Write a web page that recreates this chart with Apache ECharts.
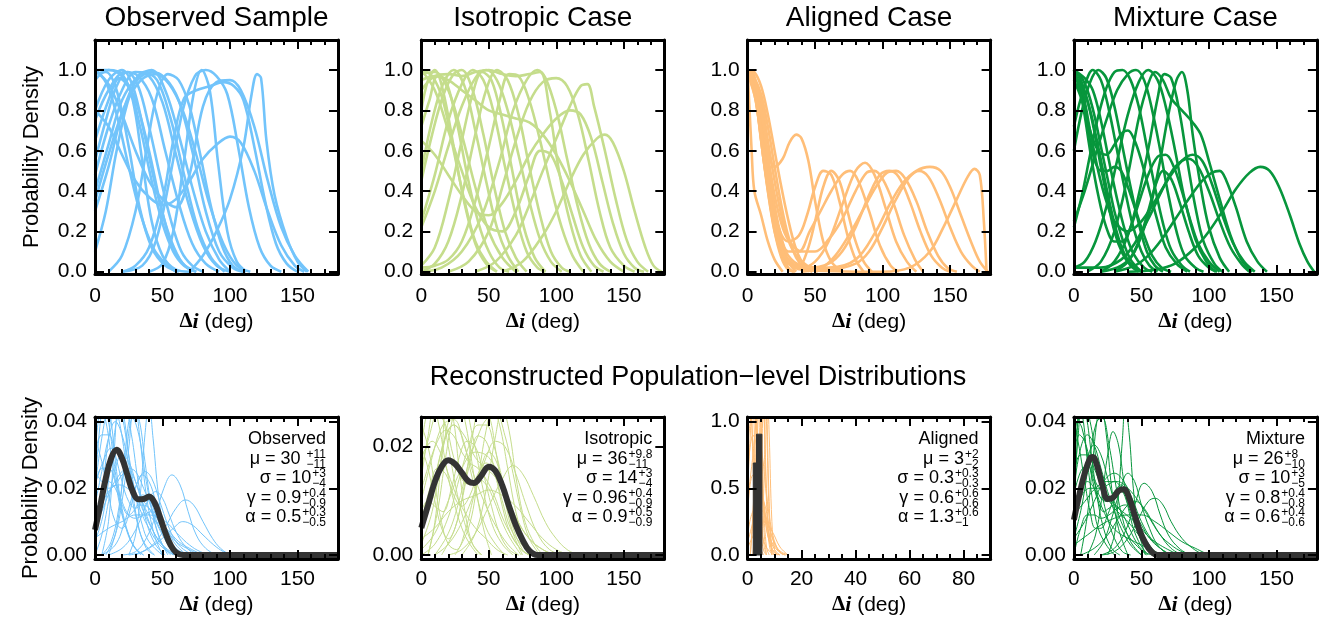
<!DOCTYPE html>
<html><head><meta charset="utf-8">
<script src="https://cdn.jsdelivr.net/npm/echarts@6/dist/echarts.min.js"></script>
<style>html,body{margin:0;padding:0;background:#fff}#c{width:1326px;height:618px}</style>
</head><body><div id="c"></div>
<script>
// ---------------- DATA ----------------
const panelTitles = ['Observed Sample', 'Isotropic Case', 'Aligned Case', 'Mixture Case'];
const superTitle = 'Reconstructed Population\u2212level Distributions';
const caseColors = ['#72c4fb', '#c5dd8c', '#ffbe78', '#07963c'];
const bestColor = '#333333';

// top row: individual-system posteriors (deg, normalised density)
const obsCurves = [
 [[0,1.0],[10,1.0],[20,0.98],[28,0.85],[35,0.55],[42,0.25],[50,0.08],[60,0.01],[70,0]],
 [[0,0.98],[8,0.99],[16,0.9],[25,0.62],[33,0.32],[42,0.12],[52,0.03],[62,0]],
 [[0,0.95],[10,1.0],[20,0.97],[30,0.85],[40,0.6],[48,0.35],[56,0.15],[65,0.04],[75,0]],
 [[0,1.0],[8,0.94],[16,0.78],[25,0.52],[34,0.28],[43,0.12],[52,0.04],[60,0]],
 [[0,0.8],[10,0.95],[20,1.0],[28,0.92],[36,0.7],[45,0.42],[54,0.2],[63,0.06],[72,0]],
 [[0,0.75],[10,0.9],[22,0.99],[32,0.97],[42,0.86],[52,0.6],[62,0.34],[72,0.14],[82,0.04],[92,0]],
 [[0,0.48],[10,0.72],[20,0.9],[30,0.99],[40,0.97],[50,0.84],[60,0.58],[70,0.32],[80,0.13],[90,0.03],[100,0]],
 [[0,0.4],[10,0.63],[20,0.85],[32,0.97],[42,1.0],[52,0.9],[62,0.68],[72,0.42],[82,0.2],[92,0.06],[100,0]],
 [[0,0.35],[10,0.58],[22,0.82],[34,0.95],[45,0.98],[55,0.93],[65,0.8],[75,0.58],[85,0.33],[95,0.14],[105,0.03],[115,0]],
 [[0,0.1],[8,0.3],[16,0.6],[26,0.88],[36,0.99],[46,0.95],[56,0.76],[66,0.48],[76,0.22],[86,0.07],[96,0]],
 [[20,0],[35,0.03],[45,0.15],[55,0.45],[65,0.8],[74,0.97],[82,1.0],[90,0.97],[98,0.88],[106,0.62],[114,0.32],[122,0.12],[130,0.03],[138,0]],
 [[0,1.0],[10,0.93],[20,0.78],[30,0.6],[40,0.45],[50,0.36],[60,0.32],[70,0.48],[80,0.82],[90,0.94],[100,0.95],[108,0.9],[118,0.72],[128,0.45],[138,0.22],[148,0.08],[158,0]],
 [[0,0.8],[10,0.72],[20,0.58],[30,0.45],[40,0.37],[50,0.33],[60,0.36],[70,0.45],[80,0.56],[90,0.63],[100,0.67],[108,0.64],[118,0.5],[128,0.3],[138,0.13],[148,0.03],[155,0]],
 [[70,0],[80,0.08],[90,0.2],[100,0.36],[110,0.62],[116,0.88],[120,0.98],[123,0.96],[127,0.65],[133,0.38],[142,0.17],[150,0.05],[157,0]],
 [[0,0.3],[10,0.52],[20,0.78],[30,0.94],[42,0.99],[52,0.96],[62,0.85],[72,0.6],[82,0.3],[92,0.1],[102,0.02],[110,0]],
 [[20,0],[30,0.03],[40,0.12],[50,0.35],[58,0.65],[66,0.86],[75,0.9],[85,0.92],[95,0.94],[103,0.92],[110,0.85],[118,0.62],[126,0.35],[134,0.14],[142,0.04],[150,0]],
 [[40,0],[50,0.04],[58,0.2],[66,0.55],[73,0.88],[79,1.0],[85,0.9],[91,0.55],[98,0.2],[105,0.05],[112,0]],
 [[0,0.65],[10,0.85],[18,0.96],[26,0.9],[34,0.7],[42,0.45],[50,0.24],[58,0.1],[66,0.03],[75,0]],
 [[10,0],[20,0.08],[30,0.3],[38,0.6],[46,0.88],[54,0.98],[62,0.95],[70,0.82],[78,0.58],[86,0.32],[94,0.13],[102,0.03],[110,0]],
 [[0,0.55],[8,0.75],[16,0.92],[24,0.99],[32,0.92],[40,0.72],[48,0.48],[56,0.26],[64,0.1],[72,0.03],[80,0]]
];
const isoCurves = [
 [[0,1.0],[8,0.97],[16,0.85],[24,0.6],[32,0.35],[40,0.15],[48,0.05],[56,0]],
 [[0,0.98],[10,0.99],[20,0.9],[30,0.68],[40,0.42],[50,0.2],[60,0.07],[70,0]],
 [[0,0.72],[6,0.85],[12,0.97],[18,0.95],[26,0.75],[34,0.48],[42,0.25],[50,0.1],[58,0.02],[65,0]],
 [[0,0.5],[8,0.75],[16,0.93],[24,1.0],[32,0.92],[40,0.7],[48,0.45],[56,0.22],[64,0.08],[72,0]],
 [[0,0.25],[10,0.48],[20,0.75],[30,0.93],[38,1.0],[46,0.95],[54,0.78],[62,0.52],[70,0.28],[78,0.1],[86,0.02],[92,0]],
 [[0,0.22],[10,0.4],[20,0.62],[30,0.82],[40,0.96],[48,1.0],[56,0.95],[64,0.8],[72,0.58],[80,0.35],[88,0.16],[96,0.05],[104,0]],
 [[0,0.03],[10,0.12],[20,0.35],[30,0.65],[38,0.88],[45,0.99],[52,0.95],[60,0.75],[68,0.48],[76,0.22],[84,0.07],[92,0]],
 [[0,0],[10,0.04],[20,0.15],[30,0.38],[40,0.68],[48,0.9],[56,1.0],[64,0.95],[72,0.78],[80,0.52],[88,0.28],[96,0.1],[104,0.02],[110,0]],
 [[0,0.9],[10,0.97],[20,0.98],[30,0.97],[40,0.99],[50,1.0],[60,0.98],[70,0.97],[80,0.98],[88,0.99],[95,0.8],[102,0.5],[110,0.25],[118,0.08],[126,0]],
 [[20,0],[35,0.05],[50,0.2],[60,0.42],[70,0.65],[80,0.84],[90,0.94],[100,0.96],[108,0.92],[116,0.78],[124,0.55],[132,0.3],[140,0.12],[150,0.03],[158,0]],
 [[40,0],[55,0.05],[70,0.18],[80,0.33],[90,0.5],[100,0.66],[110,0.82],[118,0.92],[123,0.93],[128,0.82],[136,0.6],[144,0.36],[152,0.16],[160,0.05],[168,0]],
 [[0,0.65],[10,0.58],[20,0.48],[30,0.38],[40,0.3],[50,0.28],[60,0.34],[70,0.45],[80,0.58],[90,0.68],[100,0.76],[110,0.8],[118,0.78],[126,0.66],[134,0.45],[142,0.24],[150,0.09],[158,0.02],[165,0]],
 [[0,0.95],[10,0.97],[20,0.95],[30,0.9],[40,0.85],[50,0.8],[60,0.78],[70,0.76],[80,0.74],[90,0.68],[100,0.58],[110,0.45],[120,0.3],[130,0.15],[140,0.05],[150,0]],
 [[60,0],[75,0.05],[90,0.18],[100,0.3],[110,0.45],[120,0.58],[130,0.66],[136,0.68],[142,0.64],[150,0.5],[158,0.3],[166,0.12],[172,0.03],[178,0]],
 [[0,0],[15,0.02],[30,0.1],[45,0.28],[58,0.55],[68,0.8],[78,0.95],[86,1.0],[92,0.96],[100,0.8],[108,0.56],[116,0.32],[124,0.14],[132,0.04],[140,0]],
 [[0,0.8],[5,0.95],[10,1.0],[16,0.9],[24,0.62],[32,0.34],[40,0.14],[48,0.04],[56,0]],
 [[0,0.45],[8,0.68],[16,0.87],[24,0.98],[30,1.0],[38,0.9],[46,0.68],[54,0.42],[62,0.2],[70,0.07],[78,0]],
 [[0,1.0],[10,0.9],[20,0.7],[30,0.5],[40,0.32],[50,0.22],[60,0.2],[70,0.3],[80,0.48],[88,0.6],[96,0.58],[104,0.45],[112,0.28],[120,0.12],[128,0.03],[135,0]],
 [[0,0.02],[10,0.03],[20,0.06],[30,0.15],[40,0.35],[50,0.62],[58,0.85],[65,0.98],[72,0.97],[80,0.85],[88,0.65],[96,0.42],[104,0.22],[112,0.08],[120,0]]
];
const aliCurves = [
 [[0,1.0],[4,0.98],[8,0.85],[12,0.62],[16,0.38],[20,0.2],[25,0.07],[30,0.01],[35,0]],
 [[0,1.0],[5,0.97],[10,0.8],[15,0.55],[20,0.32],[25,0.15],[30,0.05],[36,0]],
 [[0,0.98],[5,0.92],[10,0.72],[15,0.45],[20,0.22],[25,0.08],[30,0.02],[34,0]],
 [[0,1.0],[3,0.6],[5,0.4],[10,0.28],[15,0.15],[20,0.06],[26,0]],
 [[0,1.0],[5,0.99],[10,0.92],[15,0.78],[20,0.6],[25,0.42],[30,0.26],[35,0.13],[40,0.05],[46,0]],
 [[0,0.99],[5,0.96],[10,0.88],[15,0.72],[20,0.52],[25,0.33],[30,0.18],[36,0.07],[42,0.02],[48,0]],
 [[0,1.0],[5,0.9],[10,0.65],[15,0.4],[20,0.2],[26,0.07],[32,0]],
 [[0,0.97],[5,0.95],[10,0.85],[15,0.65],[20,0.45],[25,0.28],[30,0.16],[36,0.08],[44,0.03],[52,0]],
 [[0,1.0],[5,0.92],[10,0.75],[15,0.6],[20,0.52],[26,0.56],[31,0.64],[36,0.68],[40,0.66],[45,0.55],[50,0.35],[56,0.15],[62,0.05],[70,0]],
 [[0,1.0],[6,0.9],[12,0.6],[18,0.35],[24,0.2],[30,0.15],[38,0.18],[44,0.28],[50,0.42],[56,0.5],[62,0.48],[68,0.35],[74,0.18],[80,0.06],[86,0]],
 [[0,1.0],[6,0.88],[12,0.58],[18,0.3],[24,0.12],[30,0.04],[38,0.03],[44,0.1],[50,0.25],[56,0.42],[62,0.5],[68,0.45],[74,0.3],[80,0.15],[86,0.05],[92,0]],
 [[0,1.0],[6,0.85],[12,0.55],[18,0.3],[24,0.14],[30,0.06],[40,0.02],[50,0.05],[60,0.15],[70,0.33],[80,0.5],[87,0.54],[94,0.48],[102,0.32],[110,0.15],[118,0.05],[125,0]],
 [[0,1.0],[6,0.9],[12,0.65],[18,0.4],[24,0.2],[30,0.1],[38,0.1],[46,0.2],[54,0.3],[62,0.4],[70,0.48],[76,0.5],[82,0.45],[90,0.3],[98,0.13],[106,0.03],[112,0]],
 [[0,0.98],[6,0.85],[12,0.55],[18,0.28],[24,0.12],[30,0.05],[45,0.02],[60,0.04],[70,0.1],[80,0.22],[90,0.38],[98,0.48],[105,0.5],[112,0.47],[120,0.35],[128,0.2],[136,0.08],[144,0.02],[150,0]],
 [[0,1.0],[6,0.88],[12,0.6],[18,0.32],[24,0.15],[30,0.06],[40,0.02],[60,0.01],[80,0.04],[90,0.1],[100,0.22],[110,0.36],[120,0.47],[127,0.5],[134,0.47],[142,0.36],[150,0.22],[158,0.1],[166,0.03],[172,0]],
 [[0,1.0],[6,0.9],[12,0.65],[18,0.38],[24,0.18],[30,0.08],[40,0.03],[60,0.02],[80,0.06],[95,0.2],[105,0.33],[115,0.44],[125,0.5],[135,0.52],[143,0.5],[150,0.42],[158,0.28],[166,0.14],[172,0.05],[178,0]],
 [[0,1.0],[6,0.88],[12,0.6],[18,0.32],[24,0.14],[30,0.05],[40,0.01],[100,0],[120,0.02],[135,0.1],[145,0.22],[155,0.36],[163,0.47],[168,0.51],[172,0.48],[175,0.25],[177,0]],
 [[0,1.0],[5,0.95],[10,0.8],[15,0.58],[20,0.38],[25,0.24],[30,0.16],[40,0.1],[50,0.1],[60,0.16],[70,0.26],[80,0.4],[88,0.49],[94,0.5],[100,0.46],[108,0.34],[116,0.18],[124,0.06],[130,0]],
 [[40,0],[55,0.02],[65,0.08],[75,0.18],[85,0.3],[95,0.42],[103,0.49],[110,0.5],[117,0.46],[125,0.35],[133,0.2],[141,0.08],[148,0.02],[155,0]]
];
const mixCurves = [
 [[0,1.0],[5,0.95],[10,0.85],[15,0.7],[20,0.52],[25,0.35],[30,0.2],[36,0.09],[42,0.03],[48,0]],
 [[0,1.0],[5,0.97],[10,0.9],[15,0.78],[20,0.62],[25,0.46],[30,0.3],[36,0.16],[42,0.06],[50,0]],
 [[0,0.98],[6,0.92],[12,0.8],[18,0.62],[24,0.42],[30,0.24],[36,0.11],[42,0.04],[50,0]],
 [[0,1.0],[8,0.96],[14,0.9],[20,0.75],[26,0.55],[32,0.36],[38,0.2],[44,0.09],[52,0.02],[58,0]],
 [[0,0.72],[7,0.9],[14,1.0],[20,0.95],[26,0.8],[32,0.6],[38,0.4],[44,0.22],[50,0.1],[56,0.03],[62,0]],
 [[0,0.95],[6,0.85],[12,0.7],[18,0.6],[24,0.58],[30,0.63],[36,0.69],[40,0.7],[45,0.65],[50,0.55],[56,0.4],[62,0.25],[68,0.12],[76,0.04],[84,0]],
 [[0,1.0],[5,0.9],[10,0.72],[15,0.56],[20,0.5],[25,0.5],[30,0.52],[35,0.5],[40,0.42],[46,0.3],[52,0.18],[58,0.08],[65,0.02],[72,0]],
 [[0,0.25],[8,0.4],[16,0.58],[24,0.75],[32,0.9],[40,0.98],[46,1.0],[52,0.95],[58,0.8],[64,0.6],[70,0.38],[76,0.2],[82,0.08],[90,0.02],[96,0]],
 [[0,0.02],[8,0.05],[16,0.15],[24,0.32],[32,0.55],[40,0.78],[48,0.94],[55,1.0],[62,0.95],[68,0.82],[75,0.6],[82,0.36],[90,0.16],[98,0.05],[105,0]],
 [[10,0],[20,0.05],[30,0.2],[40,0.48],[48,0.76],[55,0.93],[60,0.99],[66,0.95],[72,0.86],[80,0.8],[88,0.74],[94,0.68],[100,0.55],[108,0.36],[116,0.18],[124,0.06],[132,0]],
 [[20,0],[30,0.05],[40,0.18],[48,0.38],[56,0.64],[62,0.86],[67,0.98],[72,0.96],[78,0.8],[84,0.55],[90,0.32],[96,0.15],[104,0.04],[110,0]],
 [[20,0],[35,0.03],[45,0.1],[55,0.28],[63,0.52],[70,0.78],[76,0.95],[80,0.99],[84,0.9],[88,0.68],[94,0.42],[100,0.22],[108,0.07],[115,0]],
 [[0,0.22],[6,0.38],[12,0.58],[18,0.77],[24,0.91],[30,0.99],[36,1.0],[42,0.95],[48,0.82],[54,0.62],[60,0.42],[66,0.24],[72,0.11],[80,0.03],[86,0]],
 [[0,1.0],[6,0.85],[12,0.6],[18,0.38],[24,0.22],[30,0.15],[36,0.15],[42,0.22],[48,0.34],[55,0.48],[62,0.57],[68,0.58],[74,0.52],[80,0.4],[86,0.26],[92,0.14],[100,0.05],[108,0]],
 [[30,0],[45,0.03],[55,0.08],[65,0.16],[75,0.26],[85,0.36],[95,0.45],[102,0.49],[108,0.5],[113,0.45],[120,0.32],[128,0.15],[136,0.05],[143,0]],
 [[40,0],[60,0.01],[75,0.04],[90,0.12],[100,0.2],[110,0.3],[120,0.41],[130,0.49],[138,0.52],[145,0.5],[152,0.42],[160,0.28],[167,0.14],[173,0.05],[178,0]],
 [[0,0.02],[20,0.02],[35,0.06],[45,0.14],[55,0.26],[65,0.4],[75,0.52],[85,0.56],[92,0.52],[100,0.4],[108,0.25],[116,0.12],[124,0.04],[130,0]],
 [[30,0],[40,0.05],[48,0.15],[55,0.3],[61,0.44],[66,0.5],[72,0.46],[78,0.35],[85,0.2],[92,0.08],[100,0.02],[106,0]],
 [[0,0.98],[6,0.9],[12,0.7],[18,0.5],[24,0.35],[30,0.25],[40,0.2],[50,0.25],[60,0.35],[70,0.46],[80,0.55],[88,0.58],[95,0.55],[102,0.44],[110,0.28],[118,0.14],[126,0.05],[134,0]],
 [[0,0.6],[6,0.8],[12,0.94],[18,1.0],[24,0.96],[30,0.82],[36,0.62],[42,0.42],[48,0.24],[54,0.1],[60,0.03],[66,0]]
];

// bottom row: population-level draws (thin) and best estimate (thick)
const obsPop = [
 [[0,0.02],[5,0.035],[10,0.045],[15,0.05],[20,0.042],[25,0.03],[30,0.018],[35,0.009],[40,0.004],[50,0]],
 [[0,0.005],[5,0.018],[10,0.035],[14,0.045],[18,0.04],[24,0.025],[30,0.012],[36,0.004],[44,0]],
 [[0,0.021],[6,0.028],[12,0.032],[18,0.03],[24,0.025],[30,0.019],[36,0.013],[42,0.008],[48,0.004],[56,0.001],[62,0]],
 [[20,0],[30,0.001],[38,0.005],[45,0.012],[51,0.02],[57,0.024],[63,0.021],[69,0.013],[75,0.006],[82,0.002],[90,0]],
 [[25,0],[35,0.001],[45,0.004],[53,0.009],[60,0.014],[67,0.0165],[73,0.015],[80,0.01],[87,0.005],[93,0.002],[100,0]],
 [[5,0],[15,0.003],[22,0.01],[28,0.018],[33,0.023],[37,0.025],[42,0.023],[48,0.016],[54,0.009],[60,0.004],[68,0.001],[75,0]],
 [[0,0.012],[5,0.018],[10,0.022],[15,0.02],[20,0.015],[25,0.012],[30,0.014],[35,0.018],[40,0.017],[45,0.012],[52,0.006],[60,0.002],[68,0]],
 [[0,0.004],[6,0.012],[12,0.028],[17,0.042],[22,0.045],[27,0.036],[32,0.022],[38,0.01],[45,0.003],[52,0]],
 [[0,0.02],[4,0.04],[8,0.05],[12,0.04],[16,0.025],[20,0.014],[25,0.006],[30,0.002],[36,0]],
 [[5,0],[12,0.004],[18,0.015],[23,0.03],[28,0.041],[33,0.035],[38,0.022],[44,0.01],[50,0.003],[56,0]],
 [[0,0.01],[6,0.016],[12,0.02],[18,0.021],[24,0.02],[30,0.018],[36,0.016],[42,0.013],[48,0.01],[54,0.007],[60,0.004],[68,0.002],[78,0]],
 [[0,0.035],[5,0.028],[10,0.018],[15,0.01],[20,0.008],[25,0.012],[30,0.02],[35,0.024],[40,0.022],[45,0.016],[50,0.009],[56,0.004],[64,0]],
 [[0,0.0],[5,0.006],[10,0.016],[15,0.026],[20,0.03],[25,0.028],[30,0.022],[35,0.016],[40,0.012],[45,0.01],[50,0.009],[55,0.007],[62,0.004],[70,0.002],[80,0]],
 [[10,0],[20,0.002],[28,0.006],[35,0.012],[40,0.017],[45,0.019],[50,0.017],[55,0.012],[60,0.007],[66,0.003],[74,0]],
 [[0,0.04],[4,0.045],[8,0.04],[12,0.03],[16,0.02],[20,0.012],[25,0.006],[30,0.002],[36,0]],
 [[0,0.015],[5,0.025],[10,0.035],[15,0.04],[20,0.036],[25,0.027],[30,0.018],[35,0.012],[40,0.008],[46,0.004],[54,0.001],[60,0]],
 [[8,0],[15,0.006],[20,0.016],[25,0.032],[29,0.044],[33,0.04],[37,0.028],[42,0.014],[48,0.005],[54,0]],
 [[0,0.005],[10,0.008],[20,0.01],[30,0.012],[40,0.012],[48,0.011],[55,0.009],[62,0.006],[70,0.003],[78,0.001],[86,0]],
 [[25,0],[30,0.006],[34,0.02],[37,0.036],[40,0.045],[43,0.035],[47,0.018],[52,0.006],[58,0]],
 [[0,0.025],[5,0.022],[10,0.02],[15,0.021],[20,0.024],[25,0.025],[30,0.022],[35,0.016],[40,0.01],[46,0.005],[52,0.002],[58,0]],
 [[30,0],[40,0.002],[50,0.005],[58,0.008],[65,0.01],[72,0.009],[80,0.006],[88,0.003],[95,0.001],[100,0]],
 [[0,0.03],[5,0.036],[10,0.036],[15,0.03],[20,0.022],[25,0.016],[30,0.014],[35,0.015],[40,0.014],[45,0.01],[50,0.006],[56,0.002],[62,0]],
 [[0,0.03],[3,0.042],[6,0.046],[10,0.04],[14,0.028],[18,0.017],[23,0.008],[28,0.003],[34,0]],
 [[5,0],[10,0.01],[14,0.03],[18,0.046],[22,0.04],[27,0.022],[32,0.009],[38,0.002],[44,0]],
 [[10,0],[16,0.008],[21,0.025],[25,0.04],[29,0.046],[33,0.036],[38,0.018],[44,0.006],[50,0]],
 [[0,0.008],[6,0.014],[12,0.02],[18,0.024],[24,0.026],[30,0.025],[36,0.02],[42,0.014],[48,0.008],[55,0.004],[62,0.001],[70,0]],
 [[0,0.02],[5,0.026],[10,0.026],[15,0.022],[20,0.016],[25,0.012],[30,0.011],[36,0.012],[42,0.013],[48,0.011],[54,0.007],[60,0.003],[68,0]]
];
const obsBest = [[0,0.0075],[4,0.015],[8,0.023],[12,0.029],[16,0.0315],[20,0.029],[24,0.024],[28,0.019],[32,0.0167],[36,0.0168],[40,0.0175],[44,0.0158],[48,0.0115],[52,0.0068],[56,0.003],[60,0.0008],[65,0],[180,0]];

const isoPop = [
 [[0,0.002],[8,0.008],[15,0.018],[22,0.026],[30,0.028],[38,0.022],[45,0.013],[52,0.006],[60,0.002],[68,0]],
 [[0,0.01],[8,0.018],[16,0.024],[24,0.025],[32,0.02],[40,0.014],[48,0.009],[56,0.005],[64,0.002],[72,0]],
 [[10,0],[20,0.002],[30,0.006],[40,0.012],[48,0.018],[55,0.021],[62,0.02],[70,0.015],[78,0.009],[86,0.004],[95,0.001],[105,0]],
 [[20,0],[30,0.001],[40,0.004],[50,0.009],[60,0.014],[68,0.0165],[75,0.015],[83,0.011],[92,0.006],[100,0.003],[108,0.001],[116,0]],
 [[15,0],[25,0.005],[32,0.013],[38,0.022],[44,0.028],[50,0.026],[56,0.018],[62,0.01],[68,0.004],[75,0]],
 [[0,0.014],[5,0.022],[10,0.027],[15,0.026],[20,0.02],[26,0.012],[32,0.006],[38,0.002],[45,0]],
 [[0,0.006],[6,0.012],[12,0.016],[18,0.015],[24,0.011],[30,0.009],[36,0.011],[42,0.015],[48,0.017],[54,0.015],[60,0.01],[66,0.005],[74,0.002],[82,0]],
 [[0,0.004],[6,0.009],[12,0.016],[18,0.022],[24,0.024],[30,0.022],[36,0.016],[42,0.01],[48,0.005],[55,0.002],[62,0]],
 [[0,0.02],[5,0.016],[10,0.01],[15,0.005],[20,0.003],[25,0.005],[30,0.01],[36,0.017],[42,0.022],[48,0.021],[54,0.016],[60,0.009],[66,0.004],[74,0.001],[80,0]],
 [[0,0.001],[10,0.004],[20,0.01],[30,0.016],[40,0.019],[50,0.018],[60,0.013],[70,0.007],[80,0.003],[90,0.001],[100,0]],
 [[25,0],[35,0.005],[42,0.014],[48,0.023],[53,0.027],[58,0.024],[64,0.016],[70,0.008],[76,0.003],[82,0]],
 [[0,0.018],[4,0.02],[8,0.021],[14,0.019],[20,0.015],[26,0.011],[32,0.008],[40,0.005],[48,0.003],[56,0.001],[64,0]],
 [[5,0],[10,0.006],[15,0.018],[19,0.027],[23,0.026],[28,0.016],[33,0.007],[38,0.002],[44,0]],
 [[0,0.008],[5,0.01],[10,0.009],[16,0.008],[22,0.012],[28,0.018],[34,0.021],[40,0.02],[46,0.015],[52,0.009],[58,0.004],[65,0.001],[72,0]],
 [[0,0.003],[10,0.005],[20,0.008],[30,0.01],[40,0.011],[50,0.012],[60,0.011],[70,0.009],[80,0.006],[90,0.003],[100,0.001],[110,0]],
 [[30,0],[40,0.004],[48,0.012],[55,0.022],[60,0.027],[65,0.023],[71,0.013],[77,0.006],[84,0.002],[90,0]],
 [[0,0.012],[6,0.017],[12,0.021],[18,0.023],[24,0.022],[30,0.019],[36,0.017],[42,0.016],[48,0.014],[54,0.011],[60,0.007],[66,0.004],[74,0.001],[80,0]],
 [[0,0.024],[5,0.02],[10,0.013],[15,0.006],[20,0.002],[26,0.001],[32,0.004],[38,0.01],[44,0.016],[50,0.019],[56,0.017],[62,0.011],[68,0.005],[75,0.001],[80,0]],
 [[0,0.0],[10,0.002],[20,0.007],[28,0.014],[35,0.02],[42,0.024],[48,0.024],[54,0.02],[60,0.014],[66,0.008],[72,0.004],[80,0.001],[86,0]],
 [[0,0.016],[6,0.022],[12,0.026],[18,0.024],[24,0.018],[30,0.014],[36,0.013],[42,0.014],[48,0.013],[54,0.01],[60,0.006],[66,0.003],[74,0]],
 [[5,0],[12,0.008],[18,0.018],[24,0.026],[28,0.028],[33,0.024],[40,0.013],[46,0.005],[52,0]],
 [[0,0.02],[4,0.026],[8,0.028],[13,0.024],[18,0.017],[24,0.01],[30,0.005],[36,0.002],[42,0]],
 [[10,0],[20,0.004],[28,0.01],[35,0.017],[42,0.022],[48,0.025],[55,0.026],[62,0.022],[68,0.015],[74,0.008],[80,0.003],[88,0]],
 [[0,0.005],[8,0.012],[16,0.02],[24,0.024],[32,0.022],[40,0.018],[48,0.016],[56,0.014],[64,0.01],[72,0.006],[80,0.003],[90,0.001],[98,0]]
];
const isoBest = [[0,0.005],[5,0.0092],[10,0.0135],[15,0.0163],[20,0.0175],[25,0.0168],[30,0.0152],[35,0.0136],[39,0.0133],[44,0.0145],[50,0.0163],[55,0.0155],[60,0.0128],[65,0.009],[70,0.0055],[75,0.0028],[80,0.0008],[86,0],[180,0]];

const aliPop = [
 [[0,0.5],[1,0.9],[2,1.3],[3,1.2],[4,0.7],[5,0.3],[6,0.08],[7,0]],
 [[0,1.2],[1,1.5],[2,1.2],[3,0.6],[4,0.2],[5,0.04],[6,0]],
 [[1,0],[2,0.3],[3,1.0],[4,1.4],[5,1.0],[6,0.35],[7,0.06],[8,0]],
 [[3,0],[4,0.3],[5,1.0],[6,1.6],[7,1.0],[8,0.3],[9,0]],
 [[0,0.3],[2,0.6],[4,0.55],[6,0.35],[8,0.15],[10,0.06],[12,0.02],[14,0]],
 [[0,0.8],[2,1.1],[4,0.8],[6,0.35],[8,0.1],[10,0.02],[12,0]],
 [[0,0.15],[3,0.35],[6,0.32],[8,0.2],[10,0.09],[12,0.03],[15,0]],
 [[0,2.0],[1,1.5],[2,0.7],[3,0.2],[4,0.03],[5,0]],
 [[2,0],[4,0.5],[5,1.2],[6,1.1],[7,0.5],[8,0.15],[9,0.03],[10,0]],
 [[0,0.6],[2,0.9],[4,0.75],[6,0.4],[8,0.15],[10,0.04],[12,0]],
 [[0,0.1],[2,0.25],[4,0.45],[6,0.4],[8,0.22],[10,0.08],[12,0.02],[14,0]],
 [[4,0],[5,0.6],[6,1.3],[6.5,1.5],[7,1.2],[8,0.4],[9,0.05],[10,0]],
 [[0,1.0],[1,1.3],[2,1.5],[3,1.1],[4,0.5],[5,0.15],[6,0.03],[7,0]],
 [[0,0.05],[3,0.18],[6,0.25],[9,0.18],[12,0.06],[15,0]],
 [[0,1.5],[1,1.2],[2,0.8],[3,0.5],[4,0.3],[6,0.1],[8,0.03],[10,0]],
 [[2,0],[3,0.4],[4,1.1],[5,1.6],[6,1.1],[7,0.4],[8,0.08],[9,0]],
 [[0,0.4],[2,0.75],[3,0.9],[5,0.8],[7,0.45],[9,0.18],[11,0.05],[13,0]],
 [[5,0],[6,0.5],[7,1.4],[8,0.9],[9,0.25],[10,0.04],[11,0]],
 [[0,0.9],[1,1.1],[3,1.0],[5,0.55],[7,0.2],[9,0.05],[11,0]],
 [[1,0],[3,0.7],[4,1.5],[5,0.9],[6,0.2],[7,0]]
];
const aliBest = [[2.1,0],[2.1,0.69],[3.3,0.69],[3.3,0.906],[5.3,0.906],[5.3,0]];

const mixPop = [
 [[0,0.03],[4,0.042],[8,0.045],[12,0.04],[16,0.03],[20,0.02],[25,0.011],[30,0.005],[36,0.001],[42,0]],
 [[0,0.02],[5,0.032],[10,0.036],[15,0.033],[20,0.026],[25,0.019],[30,0.013],[35,0.008],[42,0.003],[50,0]],
 [[25,0],[30,0.006],[33,0.018],[36,0.035],[38,0.045],[41,0.036],[44,0.02],[48,0.007],[53,0]],
 [[20,0],[30,0.002],[38,0.007],[45,0.015],[52,0.0215],[58,0.019],[64,0.012],[70,0.006],[78,0.002],[86,0]],
 [[20,0],[30,0.001],[40,0.005],[48,0.011],[55,0.016],[60,0.017],[66,0.015],[72,0.01],[80,0.005],[88,0.002],[96,0]],
 [[15,0],[22,0.004],[28,0.011],[34,0.019],[40,0.0245],[45,0.022],[50,0.015],[56,0.008],[62,0.003],[70,0]],
 [[0,0.018],[5,0.025],[10,0.027],[15,0.022],[20,0.017],[25,0.016],[30,0.019],[35,0.021],[40,0.018],[45,0.012],[50,0.006],[56,0.002],[62,0]],
 [[0,0.005],[6,0.015],[12,0.03],[17,0.04],[21,0.041],[26,0.033],[31,0.021],[36,0.011],[42,0.004],[50,0]],
 [[0,0.01],[2,0.03],[4,0.045],[7,0.04],[10,0.028],[14,0.016],[18,0.008],[24,0.003],[30,0]],
 [[0,0.005],[8,0.01],[15,0.016],[22,0.022],[30,0.0245],[37,0.022],[44,0.016],[50,0.01],[57,0.005],[64,0.002],[72,0]],
 [[0,0.012],[6,0.018],[12,0.02],[18,0.02],[24,0.018],[30,0.015],[36,0.013],[42,0.011],[48,0.009],[54,0.006],[60,0.004],[68,0.002],[78,0]],
 [[0,0.04],[4,0.032],[8,0.022],[12,0.013],[16,0.008],[20,0.008],[25,0.012],[30,0.017],[35,0.019],[40,0.017],[45,0.012],[50,0.007],[56,0.003],[62,0]],
 [[0,0.01],[5,0.02],[10,0.029],[15,0.033],[20,0.03],[25,0.023],[30,0.016],[35,0.01],[40,0.006],[46,0.003],[54,0]],
 [[0,0.003],[10,0.006],[20,0.009],[30,0.011],[40,0.012],[50,0.012],[60,0.01],[70,0.007],[80,0.004],[90,0.002],[100,0]],
 [[5,0],[15,0.002],[25,0.006],[33,0.011],[40,0.015],[46,0.016],[52,0.014],[58,0.01],[64,0.006],[72,0.002],[80,0]],
 [[0,0.025],[5,0.03],[10,0.03],[15,0.026],[20,0.021],[25,0.017],[30,0.014],[35,0.012],[40,0.01],[46,0.007],[52,0.004],[60,0.001],[66,0]],
 [[0,0.015],[5,0.02],[10,0.022],[15,0.02],[20,0.015],[26,0.01],[32,0.007],[40,0.005],[50,0.003],[60,0.001],[68,0]],
 [[0,0],[5,0.008],[10,0.012],[15,0.012],[20,0.011],[26,0.012],[32,0.014],[38,0.015],[44,0.013],[50,0.009],[56,0.005],[64,0.002],[72,0]],
 [[10,0],[16,0.006],[21,0.018],[25,0.03],[29,0.037],[33,0.033],[37,0.022],[42,0.011],[48,0.004],[55,0]],
 [[0,0.035],[3,0.04],[6,0.038],[10,0.03],[14,0.022],[18,0.016],[22,0.013],[26,0.014],[30,0.015],[35,0.013],[40,0.009],[46,0.004],[52,0.001],[58,0]],
 [[0,0.02],[3,0.035],[6,0.045],[9,0.042],[13,0.03],[17,0.018],[22,0.008],[28,0.002],[34,0]],
 [[5,0],[10,0.012],[14,0.028],[17,0.04],[20,0.045],[24,0.036],[28,0.02],[33,0.008],[40,0]],
 [[0,0.012],[8,0.016],[16,0.02],[24,0.022],[32,0.022],[40,0.02],[48,0.016],[56,0.011],[64,0.006],[72,0.003],[80,0.001],[88,0]],
 [[0,0.03],[4,0.036],[8,0.034],[12,0.028],[16,0.022],[20,0.02],[25,0.021],[30,0.022],[35,0.02],[40,0.015],[46,0.008],[52,0.003],[58,0]]
];
const mixBest = [[0,0.0105],[4,0.018],[8,0.0245],[12,0.029],[14,0.0294],[17,0.027],[21,0.021],[25,0.0168],[29,0.0172],[33,0.0192],[37,0.0197],[41,0.017],[45,0.012],[49,0.007],[53,0.0035],[57,0.0012],[62,0],[180,0]];

// axes: ticks and ranges
const topYTicks = [0, 0.2, 0.4, 0.6, 0.8, 1.0];
const bottomYTicks = [[0, 0.02, 0.04], [0, 0.02], [0, 0.5, 1.0], [0, 0.02, 0.04]];
const topYRange = [-0.0114, 1.149];
const bottomYRanges = [[-0.0012, 0.04135], [-0.00074, 0.02548], [-0.030, 1.035], [-0.0012, 0.04135]];
const bottomYDecimals = [2, 2, 1, 2];
const xMaxes = [180, 180, 180, 180, 180, 180, 90, 180];
const xIntervals = [50, 50, 50, 50, 50, 50, 20, 50];
const xMinorSplits = [5, 5, 5, 5, 5, 5, 4, 5];

// annotation text in the lower panels: [main, sup, sub]
const annTitles = ['Observed', 'Isotropic', 'Aligned', 'Mixture'];
const annRows = [
 [['\u03bc = 30 ', '+11', '\u221211'], ['\u03c3 = 10', '+3', '\u22124'], ['\u03b3 = 0.9', '+0.4', '\u22120.9'], ['\u03b1 = 0.5', '+0.3', '\u22120.5']],
 [['\u03bc = 36', '+9.8', '\u221211'], ['\u03c3 = 14', '+3', '\u22124'], ['\u03b3 = 0.96', '+0.4', '\u22120.9'], ['\u03b1 = 0.9', '+0.5', '\u22120.9']],
 [['\u03bc = 3', '+2', '\u22122'], ['\u03c3 = 0.3', '+0.3', '\u22120.3'], ['\u03b3 = 0.6', '+0.6', '\u22120.6'], ['\u03b1 = 1.3', '+0.6', '\u22121']],
 [['\u03bc = 26', '+8', '\u221210'], ['\u03c3 = 10', '+3', '\u22125'], ['\u03b3 = 0.8', '+0.4', '\u22120.8'], ['\u03b1 = 0.6', '+0.4', '\u22120.6']]
];

// ---------------- LAYOUT ----------------
const FONT = '"Liberation Sans", Arial, Helvetica, sans-serif';
const COL_LEFT = [95, 421.3, 747.6, 1073.9];
const PW = 243;
const ROW_TOP = [40, 417];
const ROW_H = [234, 142];

const topSets = [obsCurves, isoCurves, aliCurves, mixCurves];
const popSets = [obsPop, isoPop, aliPop, mixPop];
const bestSets = [obsBest, isoBest, aliBest, mixBest];

const grids = [], xAxes = [], yAxes = [], series = [], graphics = [];
const xName = '{d|\u0394}{i|i} (deg)';
const nameRich = {
  d: { fontFamily: '"Liberation Serif", serif', fontWeight: 'bold', fontSize: 21, color: '#000' },
  i: { fontFamily: '"Liberation Serif", serif', fontWeight: 'bold', fontStyle: 'italic', fontSize: 22, color: '#000' }
};
const tickLine = { color: '#000', width: 2 };
const axisLineStyle = { show: true, onZero: false, lineStyle: { color: '#000', width: 3 } };

for (let g = 0; g < 8; g++) {
  const row = g < 4 ? 0 : 1, col = g % 4;
  grids.push({ left: COL_LEFT[col], top: ROW_TOP[row], width: PW, height: ROW_H[row], containLabel: false });
  const common = {
    gridIndex: g, type: 'value', min: 0, max: xMaxes[g], interval: xIntervals[g], z: 10,
    axisLine: axisLineStyle, splitLine: { show: false },
    axisTick: { show: true, inside: true, length: 9, lineStyle: tickLine },
    minorTick: { show: true, splitNumber: xMinorSplits[g], length: 5, lineStyle: tickLine },
    minorSplitLine: { show: false }
  };
  xAxes.push(Object.assign({}, common, {
    position: 'bottom',
    axisLabel: { show: true, fontSize: 21, color: '#000', fontFamily: FONT, margin: row === 0 ? 12 : 10, showMaxLabel: false },
    name: xName, nameLocation: 'middle', nameGap: row === 0 ? 37 : 35,
    nameTextStyle: { fontSize: 21, color: '#000', fontFamily: FONT, rich: nameRich }
  }));
  xAxes.push(Object.assign({}, common, { position: 'top', axisLabel: { show: false } }));

  const yr = row === 0 ? topYRange : bottomYRanges[col];
  const yt = row === 0 ? topYTicks : bottomYTicks[col];
  const dec = row === 0 ? 1 : bottomYDecimals[col];
  const ycommon = {
    gridIndex: g, type: 'value', min: yr[0], max: yr[1], z: 10,
    axisLine: axisLineStyle, splitLine: { show: false },
    axisTick: { show: true, inside: true, length: 9, lineStyle: tickLine, customValues: yt }
  };
  const yl = Object.assign({}, ycommon, {
    position: 'left',
    axisLabel: { show: true, fontSize: 21, color: '#000', fontFamily: FONT, margin: 8, customValues: yt,
      formatter: v => Number(v).toFixed(dec) }
  });
  if (col === 0) {
    yl.name = 'Probability Density';
    yl.nameLocation = 'middle';
    yl.nameGap = 52;
    yl.nameTextStyle = { fontSize: 22, color: '#000', fontFamily: FONT };
  }
  yAxes.push(yl);
  yAxes.push(Object.assign({}, ycommon, { position: 'right', axisLabel: { show: false } }));

  if (row === 0) {
    topSets[col].forEach(c => series.push({
      type: 'line', xAxisIndex: 2 * g, yAxisIndex: 2 * g, data: c, showSymbol: false, smooth: 0.35,
      lineStyle: { color: caseColors[col], width: 2.6 }, silent: true
    }));
  } else {
    popSets[col].forEach(c => series.push({
      type: 'line', xAxisIndex: 2 * g, yAxisIndex: 2 * g, data: c, showSymbol: false, smooth: 0.4,
      lineStyle: { color: caseColors[col], width: 1 }, silent: true
    }));
    if (col === 2) {
      const pts = bestSets[col];
      series.push({
        type: 'custom', xAxisIndex: 2 * g, yAxisIndex: 2 * g, data: pts, silent: true, z: 5,
        encode: { x: 0, y: 1 },
        renderItem: (params, api) => {
          if (params.dataIndex !== 0) return null;
          return { type: 'polygon', shape: { points: pts.map(p => api.coord(p)) },
            style: { fill: bestColor, stroke: bestColor, lineWidth: 1 } };
        }
      });
    } else {
      series.push({
        type: 'line', xAxisIndex: 2 * g, yAxisIndex: 2 * g, data: bestSets[col], showSymbol: false, smooth: 0.4,
        lineStyle: { color: bestColor, width: 6 }, silent: true, z: 5
      });
    }
  }
}

// titles
for (let col = 0; col < 4; col++) {
  graphics.push({ type: 'text', x: COL_LEFT[col] + PW / 2, y: 18,
    style: { text: panelTitles[col], fontSize: 28, fontFamily: FONT, fill: '#000', align: 'center', verticalAlign: 'middle' } });
}
graphics.push({ type: 'text', x: (COL_LEFT[0] + COL_LEFT[3] + PW) / 2 - 8, y: 378,
  style: { text: superTitle, fontSize: 27, fontFamily: FONT, fill: '#000', align: 'center', verticalAlign: 'middle' } });

// annotations
const mctx = document.createElement('canvas').getContext('2d');
mctx.font = '12px ' + FONT;
for (let col = 0; col < 4; col++) {
  const right = COL_LEFT[col] + PW - 12;
  const top = ROW_TOP[1];
  graphics.push({ type: 'text', x: right, y: top + 22,
    style: { text: annTitles[col], fontSize: 18, fontFamily: FONT, fill: '#000', align: 'right', verticalAlign: 'middle' } });
  annRows[col].forEach((r, i) => {
    const yc = top + 42 + i * 19.5;
    const w = Math.max(mctx.measureText(r[1]).width, mctx.measureText(r[2]).width);
    graphics.push({ type: 'text', x: right - w - 1, y: yc,
      style: { text: r[0], fontSize: 18, fontFamily: FONT, fill: '#000', align: 'right', verticalAlign: 'middle' } });
    graphics.push({ type: 'text', x: right - w, y: yc - 4.5,
      style: { text: r[1], fontSize: 12, fontFamily: FONT, fill: '#000', align: 'left', verticalAlign: 'middle' } });
    graphics.push({ type: 'text', x: right - w, y: yc + 5.5,
      style: { text: r[2], fontSize: 12, fontFamily: FONT, fill: '#000', align: 'left', verticalAlign: 'middle' } });
  });
}

const chart = echarts.init(document.getElementById('c'), null, { renderer: 'canvas' });
chart.setOption({
  animation: false,
  backgroundColor: '#fff',
  grid: grids, xAxis: xAxes, yAxis: yAxes, series: series,
  graphic: { elements: graphics }
});
</script></body></html>
